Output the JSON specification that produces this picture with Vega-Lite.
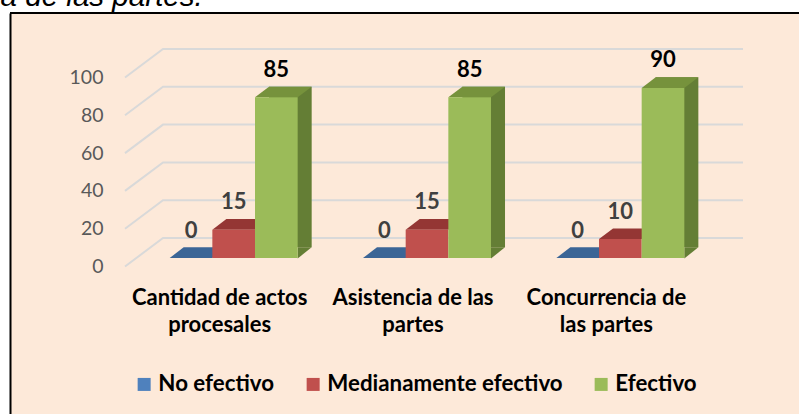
{
  "$schema": "https://vega.github.io/schema/vega-lite/v6.json",
  "width": 789,
  "height": 401,
  "autosize": {"type": "none"},
  "padding": {"left": 10, "top": 13, "right": 0, "bottom": 0},
  "background": "white",
  "config": {"view": {"fill": "#FDE9D9", "stroke": null}, "font": "Lato"},
  "data": {"values": [
    {"cat": "Cantidad de actos procesales", "series": "No efectivo", "value": 0},
    {"cat": "Cantidad de actos procesales", "series": "Medianamente efectivo", "value": 15},
    {"cat": "Cantidad de actos procesales", "series": "Efectivo", "value": 85},
    {"cat": "Asistencia de las partes", "series": "No efectivo", "value": 0},
    {"cat": "Asistencia de las partes", "series": "Medianamente efectivo", "value": 15},
    {"cat": "Asistencia de las partes", "series": "Efectivo", "value": 85},
    {"cat": "Concurrencia de las partes", "series": "No efectivo", "value": 0},
    {"cat": "Concurrencia de las partes", "series": "Medianamente efectivo", "value": 10},
    {"cat": "Concurrencia de las partes", "series": "Efectivo", "value": 90}
  ]},
  "layer": [
    {
      "data": {"values": [
        {"cat": "Cantidad de actos procesales", "v": 0},
        {"cat": "Cantidad de actos procesales", "v": 20},
        {"cat": "Cantidad de actos procesales", "v": 40},
        {"cat": "Cantidad de actos procesales", "v": 60},
        {"cat": "Cantidad de actos procesales", "v": 80},
        {"cat": "Cantidad de actos procesales", "v": 100}
      ]},
      "mark": {"type": "point", "shape": "M-12,0L26,-28.5L606,-28.5", "size": 4, "filled": false, "stroke": "#D9D9D9", "strokeWidth": 2, "opacity": 1},
      "encoding": {
        "x": {"field": "cat", "type": "nominal", "bandPosition": 0},
        "y": {"field": "v", "type": "quantitative"}
      }
    },
    {
      "transform": [{"filter": "datum.series == 'Efectivo'"}],
      "mark": {"type": "bar", "width": 42.67, "xOffset": 56.67, "yOffset": -19.2, "y2Offset": -19.2, "color": "#647E35", "strokeWidth": 0},
      "encoding": {
        "x": {"field": "cat", "type": "nominal"},
        "y": {"field": "value", "type": "quantitative"}
      }
    },
    {
      "transform": [{"filter": "datum.series == 'Efectivo'"}],
      "mark": {"type": "point", "shape": "M21.33,0.5L21.33,-10.7L35.33,-10.7Z", "size": 4, "filled": true, "color": "#647E35", "opacity": 1, "strokeWidth": 0, "yOffset": -8.5},
      "encoding": {
        "x": {"field": "cat", "type": "nominal"},
        "xOffset": {"field": "series", "type": "nominal"},
        "y": {"datum": 0, "type": "quantitative"}
      }
    },
    {
      "mark": {"type": "point", "shape": "M-21.33,0L21.33,0L35.33,-10.7L-7.33,-10.7Z", "size": 4, "filled": true, "opacity": 1, "strokeWidth": 0, "yOffset": -8.5},
      "encoding": {
        "x": {"field": "cat", "type": "nominal"},
        "xOffset": {"field": "series", "type": "nominal"},
        "y": {"field": "value", "type": "quantitative"},
        "color": {"field": "series", "type": "nominal", "scale": {"domain": ["No efectivo", "Medianamente efectivo", "Efectivo"], "range": ["#3B6596", "#943634", "#76923C"]}, "legend": null}
      }
    },
    {
      "mark": {"type": "bar", "yOffset": -8.5, "y2Offset": -8.5, "strokeWidth": 0},
      "encoding": {
        "x": {
          "field": "cat", "type": "nominal",
          "scale": {"type": "band", "domain": ["Cantidad de actos procesales", "Asistencia de las partes", "Concurrencia de las partes"], "paddingInner": 0, "paddingOuter": 0.5405, "align": 0.6077},
          "axis": {"orient": "bottom", "offset": -120, "domain": false, "ticks": false, "tickSize": 0, "grid": false, "title": null, "labelPadding": 10.5, "labelOffset": -14, "labelAlign": "center", "labelBaseline": "alphabetic", "labelFont": "Lato", "labelFontSize": 22, "labelFontWeight": "bold", "labelColor": "black", "labelLineHeight": 26.5, "labelLimit": 0, "labelAngle": 0, "labelFlush": false, "labelOverlap": false,
            "labelExpr": "datum.value == 'Cantidad de actos procesales' ? ['Cantidad de actos', 'procesales'] : datum.value == 'Asistencia de las partes' ? ['Asistencia de las', 'partes'] : ['Concurrencia de', 'las partes']"}
        },
        "xOffset": {"field": "series", "type": "nominal", "scale": {"type": "band", "domain": ["No efectivo", "Medianamente efectivo", "Efectivo"], "paddingInner": 0, "paddingOuter": 0.766}},
        "y": {
          "field": "value", "type": "quantitative",
          "scale": {"domain": [-78.04, 134.13], "nice": false, "zero": false},
          "axis": {"values": [0, 20, 40, 60, 80, 100], "title": "a de las partes.", "titleX": -10, "titleY": -8, "titleAngle": 0, "titleAlign": "left", "titleBaseline": "alphabetic", "titleFont": "Liberation Sans", "titleFontStyle": "italic", "titleFontWeight": "normal", "titleFontSize": 29.6, "titleColor": "black", "titleLimit": 0, "grid": false, "ticks": false, "tickSize": 0, "domain": true, "domainColor": "black", "domainWidth": 2, "labelPadding": -93, "labelFont": "Lato", "labelFontSize": 19.5, "labelColor": "#595959", "labelAlign": "right", "labelBaseline": "middle", "offset": 0, "labelFlush": false, "labelOverlap": false}
        },
        "color": {
          "field": "series", "type": "nominal",
          "scale": {"domain": ["No efectivo", "Medianamente efectivo", "Efectivo"], "range": ["#4F81BD", "#C0504D", "#9BBB59"]},
          "legend": {"orient": "none", "legendX": 123, "legendY": 360, "direction": "horizontal", "title": null, "symbolType": "square", "symbolSize": 169, "symbolStrokeWidth": 0, "symbolOpacity": 1, "labelFont": "Lato", "labelFontSize": 22.3, "labelFontWeight": "bold", "labelColor": "black", "columnPadding": 27, "labelOffset": 3, "padding": 0, "labelLimit": 0}
        }
      }
    },
    {
      "mark": {"type": "text", "font": "Lato", "fontSize": 22, "fontWeight": "bold", "baseline": "middle", "align": "center", "yOffset": -36},
      "encoding": {
        "x": {"field": "cat", "type": "nominal"},
        "xOffset": {"field": "series", "type": "nominal"},
        "y": {"field": "value", "type": "quantitative"},
        "text": {"field": "value", "type": "quantitative"},
        "color": {"condition": {"test": "datum.series == 'Efectivo'", "value": "#000000"}, "value": "#404040"}
      }
    },
    {
      "mark": {"type": "rule", "color": "black", "strokeWidth": 2},
      "encoding": {"y": {"datum": 134.13, "type": "quantitative"}}
    }
  ],
  "resolve": {"scale": {"color": "independent"}}
}
